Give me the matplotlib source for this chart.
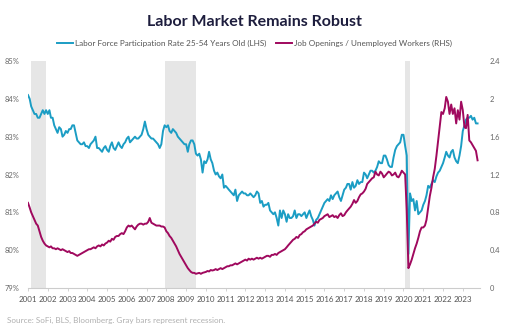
import numpy as np
import pandas as pd
import matplotlib
matplotlib.use('Agg')
import matplotlib.pyplot as plt
import matplotlib.dates as mdates

plt.rcParams['font.family'] = ['Lato', 'DejaVu Sans']

# Prime-age (25-54) labor force participation rate, %, monthly Jan 2001 - Oct 2023
lfpr = [
    84.1, 84.0, 83.8, 83.7, 83.6, 83.6, 83.5, 83.5, 83.6, 83.7, 83.6, 83.7,      # 2001
    83.6, 83.7, 83.5, 83.5, 83.3, 83.2, 83.1, 83.25, 83.2, 83.0, 83.05, 83.15,   # 2002
    83.1, 83.2, 83.2, 83.3, 83.3, 83.1, 82.9, 82.85, 82.8, 82.8, 82.85, 82.75,   # 2003
    82.75, 82.7, 82.8, 82.85, 82.9, 83.0, 82.7, 82.7, 82.65, 82.6, 82.7, 82.75,  # 2004
    82.65, 82.6, 82.75, 82.85, 82.7, 82.65, 82.75, 82.85, 82.75, 82.7, 82.8, 82.85,  # 2005
    82.95, 83.0, 82.85, 82.9, 82.95, 83.0, 82.95, 82.95, 83.0, 83.05, 83.2, 83.4,    # 2006
    83.2, 83.05, 83.0, 82.95, 82.95, 82.9, 82.85, 82.8, 82.7, 82.8, 83.15, 83.3,     # 2007
    83.25, 83.3, 83.15, 83.1, 83.2, 83.15, 83.1, 83.0, 82.95, 82.9, 82.85, 82.8,     # 2008
    82.8, 82.6, 82.8, 82.9, 82.9, 82.8, 82.55, 82.5, 82.55, 82.4, 82.05, 82.35,      # 2009
    82.3, 82.4, 82.6, 82.4, 82.3, 82.1, 82.0, 82.05, 81.95, 81.9, 82.0, 81.65,       # 2010
    81.7, 81.65, 81.6, 81.55, 81.5, 81.45, 81.6, 81.3, 81.45, 81.5, 81.55, 81.5,     # 2011
    81.5, 81.45, 81.45, 81.5, 81.45, 81.4, 81.45, 81.55, 81.5, 81.25, 81.3, 81.15,   # 2012
    81.2, 81.2, 81.25, 81.05, 81.0, 80.95, 81.0, 80.85, 80.65, 81.05, 80.85, 81.05,  # 2013
    80.95, 80.75, 80.95, 80.85, 80.85, 80.9, 81.05, 80.85, 80.95, 80.95, 80.9, 80.95,  # 2014
    81.0, 80.85, 80.95, 81.05, 80.9, 80.8, 80.65, 80.8, 80.85, 80.95, 81.05, 81.15,  # 2015
    81.25, 81.3, 81.35, 81.3, 81.45, 81.35, 81.45, 81.5, 81.55, 81.4, 81.3, 81.45,   # 2016
    81.6, 81.65, 81.75, 81.75, 81.6, 81.8, 81.65, 81.7, 81.85, 81.75, 81.8, 81.8,    # 2017
    82.05, 82.0, 81.9, 82.0, 82.1, 82.1, 82.05, 82.1, 82.2, 82.35, 82.3, 82.3,       # 2018
    82.5, 82.5, 82.4, 82.25, 82.2, 82.2, 82.45, 82.65, 82.75, 82.8, 82.85, 83.05,    # 2019
    83.05, 82.75, 82.5, 79.9, 81.5, 81.3, 81.35, 81.05, 81.3, 80.95, 81.0, 81.05,    # 2020
    81.2, 81.3, 81.45, 81.7, 81.65, 81.75, 81.85, 81.8, 81.95, 82.05, 82.1, 82.2,    # 2021
    82.3, 82.45, 82.6, 82.5, 82.45, 82.6, 82.65, 82.45, 82.35, 82.3, 82.5, 82.75,    # 2022
    83.15, 83.3, 83.45, 83.5, 83.5, 83.55, 83.45, 83.5, 83.35, 83.35,                # 2023
]

# Job openings per unemployed worker, monthly Jan 2001 - Oct 2023
ratio = [
    0.90, 0.85, 0.80, 0.76, 0.72, 0.68, 0.66, 0.60, 0.54, 0.50, 0.47, 0.45,  # 2001
    0.44, 0.43, 0.44, 0.42, 0.42, 0.41, 0.42, 0.41, 0.40, 0.41, 0.40, 0.39,  # 2002
    0.38, 0.39, 0.37, 0.37, 0.36, 0.35, 0.34, 0.35, 0.36, 0.37, 0.38, 0.39,  # 2003
    0.40, 0.41, 0.41, 0.42, 0.43, 0.42, 0.44, 0.45, 0.44, 0.46, 0.45, 0.47,  # 2004
    0.48, 0.50, 0.49, 0.52, 0.51, 0.54, 0.55, 0.55, 0.57, 0.58, 0.57, 0.60,  # 2005
    0.64, 0.66, 0.65, 0.66, 0.64, 0.62, 0.65, 0.67, 0.68, 0.68, 0.67, 0.68,  # 2006
    0.68, 0.70, 0.74, 0.69, 0.68, 0.67, 0.66, 0.66, 0.66, 0.65, 0.65, 0.64,  # 2007
    0.60, 0.58, 0.55, 0.53, 0.50, 0.47, 0.44, 0.40, 0.36, 0.33, 0.30, 0.27,  # 2008
    0.24, 0.21, 0.19, 0.17, 0.16, 0.16, 0.15, 0.155, 0.16, 0.15, 0.16, 0.165,  # 2009
    0.17, 0.18, 0.175, 0.19, 0.185, 0.19, 0.20, 0.19, 0.20, 0.21, 0.20, 0.21,  # 2010
    0.22, 0.23, 0.23, 0.24, 0.24, 0.25, 0.26, 0.25, 0.26, 0.27, 0.28, 0.29,  # 2011
    0.30, 0.29, 0.31, 0.30, 0.31, 0.30, 0.31, 0.32, 0.31, 0.32, 0.31, 0.32,  # 2012
    0.33, 0.34, 0.34, 0.33, 0.35, 0.35, 0.36, 0.35, 0.37, 0.38, 0.39, 0.40,  # 2013
    0.41, 0.43, 0.45, 0.47, 0.49, 0.51, 0.52, 0.54, 0.53, 0.56, 0.57, 0.59,  # 2014
    0.60, 0.62, 0.63, 0.64, 0.65, 0.66, 0.68, 0.70, 0.69, 0.72, 0.73, 0.74,  # 2015
    0.76, 0.77, 0.78, 0.75, 0.76, 0.77, 0.75, 0.76, 0.74, 0.77, 0.79, 0.76,  # 2016
    0.77, 0.80, 0.82, 0.84, 0.86, 0.89, 0.93, 0.90, 0.92, 0.96, 0.99, 1.00,  # 2017
    1.02, 1.05, 1.10, 1.12, 1.14, 1.16, 1.17, 1.23, 1.20, 1.19, 1.23, 1.21,  # 2018
    1.17, 1.19, 1.21, 1.23, 1.22, 1.19, 1.20, 1.22, 1.18, 1.17, 1.20, 1.24,  # 2019
    1.22, 1.20, 0.82, 0.21, 0.25, 0.30, 0.36, 0.42, 0.47, 0.53, 0.60, 0.64,  # 2020
    0.64, 0.66, 0.72, 0.85, 0.97, 1.06, 1.17, 1.26, 1.40, 1.55, 1.70, 1.86,  # 2021
    1.84, 1.90, 2.02, 1.97, 1.84, 1.94, 1.84, 1.90, 1.74, 1.88, 1.78, 1.97,  # 2022
    1.88, 1.70, 1.69, 1.83, 1.56, 1.54, 1.51, 1.48, 1.45, 1.35,              # 2023
]

# NBER recessions (start, end)
recessions = [('2001-03-01', '2001-11-30'), ('2007-12-01', '2009-06-30'), ('2020-02-01', '2020-04-30')]

dates = pd.date_range('2001-01-01', periods=len(lfpr), freq='MS')
cyan = '#1b9dc4'
magenta = '#a0095e'

fig = plt.figure(figsize=(5.09, 3.32), dpi=100)
ax = fig.add_axes([28 / 509, 44 / 332, 452 / 509, 227 / 332])
ax2 = ax.twinx()

for start, end in recessions:
    ax.axvspan(pd.Timestamp(start), pd.Timestamp(end), color='#e6e6e6', lw=0, zorder=0)

l1, = ax.plot(dates, lfpr, color=cyan, lw=1.4, zorder=3,
              label='Labor Force Participation Rate 25-54 Years Old (LHS)')
l2, = ax2.plot(dates, ratio, color=magenta, lw=1.4, zorder=3,
               label='Job Openings / Unemployed Workers (RHS)')

ax.set_ylim(79, 85)
ax2.set_ylim(0, 2.4)
ax.set_xlim(pd.Timestamp('2001-01-01'), pd.Timestamp('2023-11-15'))
ax.set_yticks(range(79, 86))
ax.set_yticklabels([f'{v}%' for v in range(79, 86)])
ax2.set_yticks([0, 0.4, 0.8, 1.2, 1.6, 2.0, 2.4])
ax2.set_yticklabels(['0', '0.4', '0.8', '1.2', '1.6', '2', '2.4'])
ax.xaxis.set_major_locator(mdates.YearLocator())
ax.xaxis.set_major_formatter(mdates.DateFormatter('%Y'))

for a in (ax, ax2):
    for s in a.spines.values():
        s.set_visible(False)
ax.spines['bottom'].set_visible(True)
ax.spines['bottom'].set_color('#cccccc')
ax.spines['bottom'].set_linewidth(0.8)
ax.tick_params(axis='x', colors='#cccccc', labelcolor='#555555', labelsize=5.8, length=2.5, width=0.6, pad=3)
ax.tick_params(axis='y', length=0, labelcolor='#666666', labelsize=5.4, pad=6)
ax2.tick_params(axis='y', length=0, labelcolor='#666666', labelsize=5.4, pad=7)

fig.text(0.5, 0.935, 'Labor Market Remains Robust', ha='center', va='center',
         fontsize=11.5, fontweight='bold', color='#1d1d3d')
fig.legend(handles=[l1, l2], loc='center', bbox_to_anchor=(0.5, 0.868), ncol=2,
           frameon=False, fontsize=5.9, handlelength=2.0, handletextpad=0.2,
           columnspacing=1.2, labelcolor='#555555')
fig.text(7 / 509, 1 - 320 / 332, 'Source: SoFi, BLS, Bloomberg. Gray bars represent recession.',
         ha='left', va='center', fontsize=5.9, color='#b0b0b0')

fig.savefig('out.png', dpi=100)
